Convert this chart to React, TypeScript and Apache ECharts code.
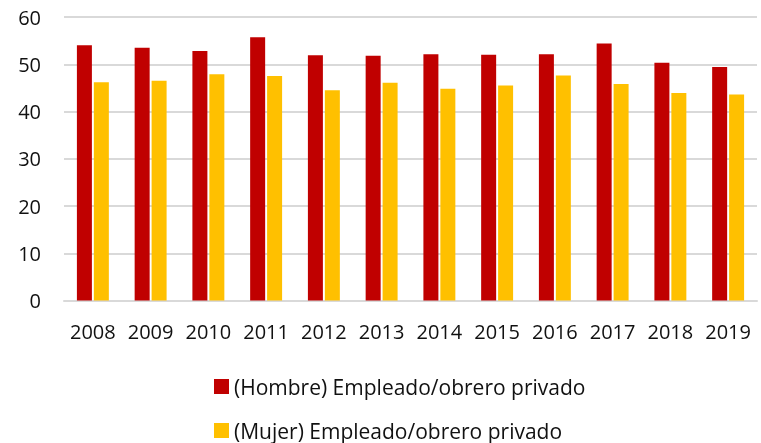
import React, { useEffect, useRef } from "react";
import * as echarts from "echarts";

const categories = ["2008", "2009", "2010", "2011", "2012", "2013", "2014", "2015", "2016", "2017", "2018", "2019"];
const hombre = [54.0, 53.5, 52.8, 55.7, 51.9, 51.8, 52.1, 52.0, 52.1, 54.4, 50.3, 49.4];
const mujer = [46.2, 46.5, 47.9, 47.5, 44.5, 46.1, 44.8, 45.5, 47.6, 45.8, 43.9, 43.6];
const seriesNames = ["(Hombre) Empleado/obrero privado", "(Mujer) Empleado/obrero privado"];

const FONT = "Open Sans";

export default function App() {
  const ref = useRef<HTMLDivElement>(null);
  useEffect(() => {
    if (!ref.current) return;
    const chart = echarts.init(ref.current, null, { renderer: "svg" });
    const legendBase = {
      orient: "vertical",
      left: 214,
      padding: 0,
      itemWidth: 15,
      itemHeight: 15,
      icon: "rect",
      textStyle: { fontFamily: FONT, fontSize: 21, color: "#111", lineHeight: 20 },
    };
    chart.setOption({
      animation: false,
      textStyle: { fontFamily: FONT },
      grid: { left: 64, right: 4, top: 17, bottom: 142.5, containLabel: false },
      legend: [
        { ...legendBase, top: 376, data: [seriesNames[0]] },
        { ...legendBase, top: 420, data: [seriesNames[1]] },
      ],
      xAxis: {
        type: "category",
        data: categories,
        axisLine: { lineStyle: { color: "#d9d9d9", width: 2 } },
        axisTick: { show: false },
        axisLabel: { fontFamily: FONT, fontSize: 20, color: "#111", margin: 21, interval: 0 },
      },
      yAxis: {
        type: "value",
        min: 0,
        max: 60,
        interval: 10,
        axisLine: { show: false },
        axisTick: { show: false },
        splitLine: { lineStyle: { color: "#d9d9d9", width: 2 } },
        axisLabel: { fontFamily: FONT, fontSize: 20, color: "#111", margin: 23 },
      },
      series: [
        {
          name: seriesNames[0],
          type: "bar",
          data: hombre,
          barWidth: 15,
          barGap: "13%",
          itemStyle: { color: "#C00000" },
        },
        {
          name: seriesNames[1],
          type: "bar",
          data: mujer,
          barWidth: 15,
          barGap: "13%",
          itemStyle: { color: "#FFC000" },
        },
      ],
    });
    return () => chart.dispose();
  }, []);
  return <div ref={ref} style={{ width: 761, height: 443, position: "fixed", left: 0, top: 0 }} />;
}
